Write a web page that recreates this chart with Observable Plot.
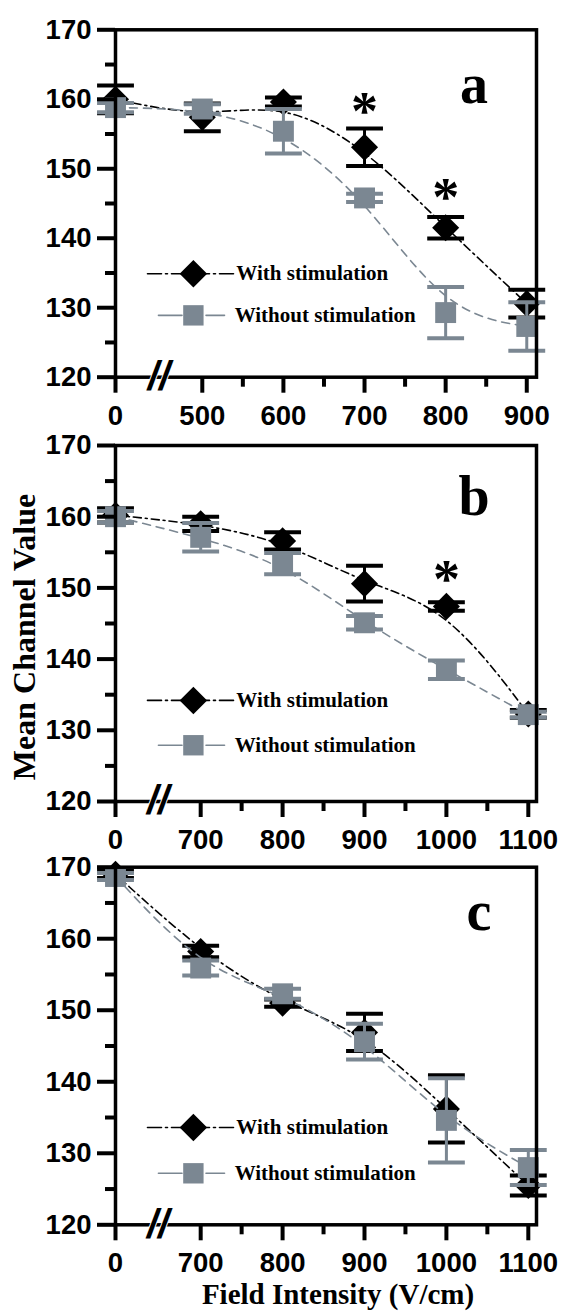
<!DOCTYPE html>
<html><head><meta charset="utf-8">
<script src="https://cdn.jsdelivr.net/npm/d3@7"></script>
<script src="https://cdn.jsdelivr.net/npm/@observablehq/plot@0.6"></script>
<style>
body{margin:0;background:#fff;}
#wrap{position:relative;width:563px;height:1311px;overflow:hidden;background:#fff;}
#wrap svg{position:absolute;left:0;}
</style></head><body><div id="wrap"></div>
<script>
// ---- data ----
const fieldA = [0, 500, 600, 700, 800, 900];
const fieldBC = [0, 700, 800, 900, 1000, 1100];
const withA = [160.0, 157.4, 159.6, 153.1, 141.5, 130.6];
const withAErr = [2.0, 2.0, 0.65, 2.7, 1.55, 2.0];
const withoutA = [158.8, 158.6, 155.4, 145.8, 129.3, 127.3];
const withoutAErr = [0.65, 0.7, 3.2, 0.6, 3.7, 3.5];
const withB = [160.2, 159.0, 156.6, 150.6, 147.4, 132.3];
const withBErr = [1.0, 1.0, 1.2, 2.5, 0.6, 0.55];
const withoutB = [160.0, 157.1, 153.4, 145.1, 138.5, 132.2];
const withoutBErr = [0.8, 2.0, 1.5, 0.95, 1.3, 0.4];
const withC = [169.0, 158.2, 151.0, 146.9, 136.2, 125.5];
const withCErr = [0.5, 0.8, 0.5, 2.6, 4.7, 1.4];
const withoutC = [168.7, 155.9, 152.3, 145.6, 134.6, 128.0];
const withoutCErr = [0.5, 1.05, 0.7, 2.5, 5.9, 2.45];
const starsA = [[700, 159.8], [800, 147.4]];
const starsB = [[1000, 152.7]];
const starsC = [];
const yMajor = [120, 130, 140, 150, 160, 170];
const yMinor = [125, 135, 145, 155, 165];
const legendLabels = ["With stimulation", "Without stimulation"];
const panelLetters = ["a", "b", "c"];
const yTitle = "Mean Channel Value";
const xTitle = "Field Intensity (V/cm)";

// ---- styles ----
const GRAY = "#7b8792";
const SANS = "Liberation Sans, Arial, sans-serif";
const SERIF = "Liberation Serif, Times New Roman, serif";
const capSymbol = {draw(ctx, size) { const w = Math.sqrt(size); ctx.moveTo(-w, 0); ctx.lineTo(w, 0); }};

const panels = [
  {top: 0, height: 433, mt: 29.3, mb: 56.3, fields: fieldA, zero: 393, xmax: 912,
   w: withA, we: withAErr, wo: withoutA, woe: withoutAErr, stars: starsA, legY: [134.9, 128.9]},
  {top: 433, height: 417, mt: 12, mb: 49, fields: fieldBC, zero: 596, xmax: 1110,
   w: withB, we: withBErr, wo: withoutB, woe: withoutBErr, stars: starsB, legY: [134.2, 127.9]},
  {top: 850, height: 461, mt: 16.7, mb: 86.7, fields: fieldBC, zero: 596, xmax: 1110,
   w: withC, we: withCErr, wo: withoutC, woe: withoutCErr, stars: starsC, legY: [133.6, 127.2]}
];

const wrap = document.getElementById("wrap");

panels.forEach((p) => {
  const pos = v => v === 0 ? p.zero : v;
  const rows = (vals, errs) => p.fields.map((f, i) => ({x: pos(f), v: vals[i], e: errs[i]}));
  const W = rows(p.w, p.we), WO = rows(p.wo, p.woe);
  const tickPos = p.fields.map(pos);
  const labelMap = new Map(p.fields.map(f => [pos(f), String(f)]));
  const nz = p.fields.filter(f => f !== 0);
  const xMinor = nz.slice(0, -1).map((f, i) => (f + nz[i + 1]) / 2);
  const breakX = (p.zero + nz[0]) / 2;
  const fx = f => p.zero + f * (p.xmax - p.zero);

  const series = (data, color, sym, r, dash, capW) => [
    Plot.line(data, {x: "x", y: "v", curve: "basis", stroke: color, strokeWidth: 1.6, strokeDasharray: dash}),
    Plot.ruleX(data, {x: "x", y1: d => d.v - d.e, y2: d => d.v + d.e, stroke: color, strokeWidth: 3}),
    Plot.dot(data, {x: "x", y: d => d.v + d.e, symbol: capSymbol, r: capW, stroke: color, strokeWidth: 4, fill: "none"}),
    Plot.dot(data, {x: "x", y: d => d.v - d.e, symbol: capSymbol, r: capW, stroke: color, strokeWidth: 4, fill: "none"}),
    Plot.dot(data, {x: "x", y: "v", symbol: sym, r, fill: color, stroke: "none"})
  ];
  const dashBlack = "8,4,2,4";
  const dashGray = "8,6";

  const legend = [
    Plot.line([fx(0.076), fx(0.285)], {x: d => d, y: () => p.legY[0], stroke: "black", strokeWidth: 1.6, strokeDasharray: "14,4,2,4"}),
    Plot.dot([fx(0.185)], {x: d => d, y: () => p.legY[0], symbol: "diamond2", r: 12.4, fill: "black"}),
    Plot.text([legendLabels[0]], {x: () => fx(0.287), y: () => p.legY[0], text: d => d, textAnchor: "start", fontSize: 21, fontWeight: "bold", fontFamily: SERIF, fill: "black"}),
    Plot.line([fx(0.102), fx(0.158)], {x: d => d, y: () => p.legY[1], stroke: GRAY, strokeWidth: 1.6}),
    Plot.line([fx(0.215), fx(0.259)], {x: d => d, y: () => p.legY[1], stroke: GRAY, strokeWidth: 1.6}),
    Plot.dot([fx(0.185)], {x: d => d, y: () => p.legY[1], symbol: "square", r: 11.5, fill: GRAY}),
    Plot.text([legendLabels[1]], {x: () => fx(0.283), y: () => p.legY[1], text: d => d, textAnchor: "start", fontSize: 21, fontWeight: "bold", fontFamily: SERIF, fill: "black"})
  ];

  const svg = Plot.plot({
    width: 563, height: p.height,
    marginLeft: 115, marginRight: 27, marginTop: p.mt, marginBottom: p.mb,
    style: {background: "transparent", overflow: "visible", fontFamily: SANS},
    x: {type: "linear", domain: [p.zero, p.xmax]},
    y: {domain: [120, 170]},
    marks: [
      ...series(W, "black", "diamond2", 12.2, dashBlack, 10.4),
      ...series(WO, GRAY, "square", 11.8, dashGray, 10.4),
      Plot.text(p.stars, {x: d => d[0], y: d => d[1], text: () => "*", fontSize: 54, fontWeight: "bold", fontFamily: SERIF, dy: 11, fill: "black"}),
      ...legend,
      Plot.frame({stroke: "black", strokeWidth: 3.5}),
      Plot.axisY({ticks: yMajor, tickSize: 18, tickPadding: 6, strokeWidth: 4, fontSize: 27.5, fontWeight: "bold", fontFamily: SANS, label: null, tickFormat: d => String(d)}),
      Plot.axisY({ticks: yMinor, tickSize: 10, strokeWidth: 4, fill: "none", label: null}),
      Plot.axisX({ticks: tickPos, tickSize: 16, tickPadding: 12, strokeWidth: 4, fontSize: 27.5, fontWeight: "bold", fontFamily: SANS, label: null, tickFormat: d => labelMap.get(d)}),
      Plot.axisX({ticks: xMinor, tickSize: 10, strokeWidth: 4, fill: "none", label: null}),
      Plot.text([breakX], {x: d => d, y: () => 120, text: () => "//", fontSize: 40, fontWeight: "bold", fontStyle: "italic", fontFamily: SANS, fill: "black", stroke: "white", strokeWidth: 2})
    ]
  });
  svg.style.top = p.top + "px";
  wrap.appendChild(svg);
});

// overlay titles
const ov = d3.select(wrap).append("svg")
  .attr("width", 563).attr("height", 1311)
  .style("top", "0px").style("pointer-events", "none")
  .attr("font-family", SERIF).attr("font-weight", "bold");
const letterPos = [[474, 103], [474, 515], [479, 930]];
panelLetters.forEach((l, i) => ov.append("text").attr("x", letterPos[i][0]).attr("y", letterPos[i][1])
  .attr("text-anchor", "middle").attr("font-size", 56).text(l));
ov.append("text").attr("transform", "translate(35,637) rotate(-90)").attr("text-anchor", "middle")
  .attr("font-size", 32).text(yTitle);
ov.append("text").attr("x", 338).attr("y", 1304).attr("text-anchor", "middle")
  .attr("font-size", 29).text(xTitle);
</script>
</body></html>
